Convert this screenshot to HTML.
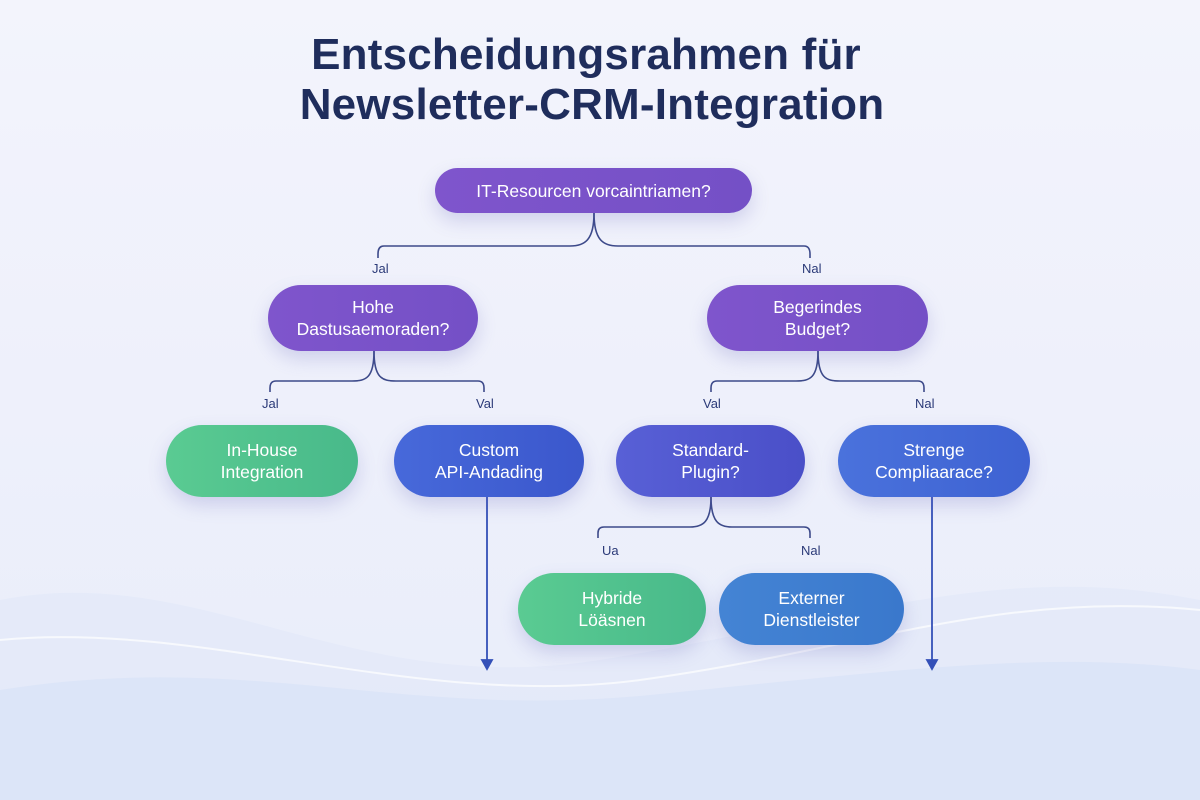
<!DOCTYPE html>
<html><head><meta charset="utf-8"><style>
html,body{margin:0;padding:0}
body{width:1200px;height:800px;position:relative;overflow:hidden;font-family:"Liberation Sans",sans-serif;background:linear-gradient(180deg,#f3f4fc 0%,#eef0fb 50%,#e8edfa 100%)}
.t{position:absolute;left:0;width:1180px;text-align:center;color:#1f2d5c;font-weight:bold;font-size:44px;letter-spacing:0.2px}
.n{position:absolute;display:flex;align-items:center;justify-content:center;text-align:center;color:#fff;font-size:17.5px;line-height:22px;border-radius:40px;box-shadow:0 8px 18px rgba(90,90,180,0.22)}
.p{background:linear-gradient(90deg,#7f55cc,#7450c6)}
.g{background:linear-gradient(90deg,#5acb92,#48b98a)}
.b{background:linear-gradient(90deg,#4769da,#3b57cc)}
.l{position:absolute;font-size:13px;color:#2b3a78}
svg{position:absolute;left:0;top:0}
</style></head><body>
<svg width="1200" height="800">
<path d="M0 600 C200 560 350 700 600 660 C850 620 1000 560 1200 600 L1200 800 L0 800Z" fill="#e1e7f9" opacity="0.6"/>
<path d="M0 690 C250 650 400 720 650 695 C900 670 1050 650 1200 670 L1200 800 L0 800Z" fill="#d9e2f8" opacity="0.7"/>
<path d="M0 640 C200 620 420 710 640 680 C860 650 1000 590 1200 610" fill="none" stroke="#fff" stroke-width="2" opacity="0.7"/>
<g fill="none" stroke="#3d4a8a" stroke-width="1.6">
<path d="M594 213 C594 240 585 246 570 246 L384 246 Q378 246 378 254 L378 258"/>
<path d="M594 213 C594 240 603 246 618 246 L804 246 Q810 246 810 254 L810 258"/>
<path d="M374 351 C374 378 366 381 352 381 L276 381 Q270 381 270 388 L270 392"/>
<path d="M374 351 C374 378 382 381 396 381 L478 381 Q484 381 484 388 L484 392"/>
<path d="M818 351 C818 378 810 381 796 381 L717 381 Q711 381 711 388 L711 392"/>
<path d="M818 351 C818 378 826 381 840 381 L918 381 Q924 381 924 388 L924 392"/>
<path d="M711 497 C711 522 703 527 690 527 L604 527 Q598 527 598 533 L598 538"/>
<path d="M711 497 C711 522 719 527 732 527 L804 527 Q810 527 810 533 L810 538"/>
</g>
<g stroke="#3450b8" stroke-width="1.8" fill="#3450b8">
<line x1="487" y1="497" x2="487" y2="664"/><path d="M482 660 L487 669 L492 660Z"/>
<line x1="932" y1="497" x2="932" y2="664"/><path d="M927 660 L932 669 L937 660Z"/>
</g>
</svg>
<div class="t" style="top:30px;left:-4px">Entscheidungsrahmen für</div>
<div class="t" style="top:80px;left:2px">Newsletter-CRM-Integration</div>
<div class="n p" style="left:435px;top:168px;width:317px;height:45px">IT-Resourcen vorcaintriamen?</div>
<div class="n p" style="left:268px;top:285px;width:210px;height:66px">Hohe<br>Dastusaemoraden?</div>
<div class="n p" style="left:707px;top:285px;width:221px;height:66px">Begerindes<br>Budget?</div>
<div class="n g" style="left:166px;top:425px;width:192px;height:72px">In-House<br>Integration</div>
<div class="n b" style="left:394px;top:425px;width:190px;height:72px">Custom<br>API-Andading</div>
<div class="n" style="left:616px;top:425px;width:189px;height:72px;background:linear-gradient(90deg,#5860d6,#4a4fc8)">Standard-<br>Plugin?</div>
<div class="n b" style="left:838px;top:425px;width:192px;height:72px;background:linear-gradient(90deg,#4a72dc,#3e62d2)">Strenge<br>Compliaarace?</div>
<div class="n g" style="left:518px;top:573px;width:188px;height:72px">Hybride<br>Löäsnen</div>
<div class="n" style="left:719px;top:573px;width:185px;height:72px;background:linear-gradient(90deg,#4484d4,#3a78cc)">Externer<br>Dienstleister</div>
<div class="l" style="left:372px;top:261px">Jal</div>
<div class="l" style="left:802px;top:261px">Nal</div>
<div class="l" style="left:262px;top:396px">Jal</div>
<div class="l" style="left:476px;top:396px">Val</div>
<div class="l" style="left:703px;top:396px">Val</div>
<div class="l" style="left:915px;top:396px">Nal</div>
<div class="l" style="left:602px;top:543px">Ua</div>
<div class="l" style="left:801px;top:543px">Nal</div>
</body></html>
